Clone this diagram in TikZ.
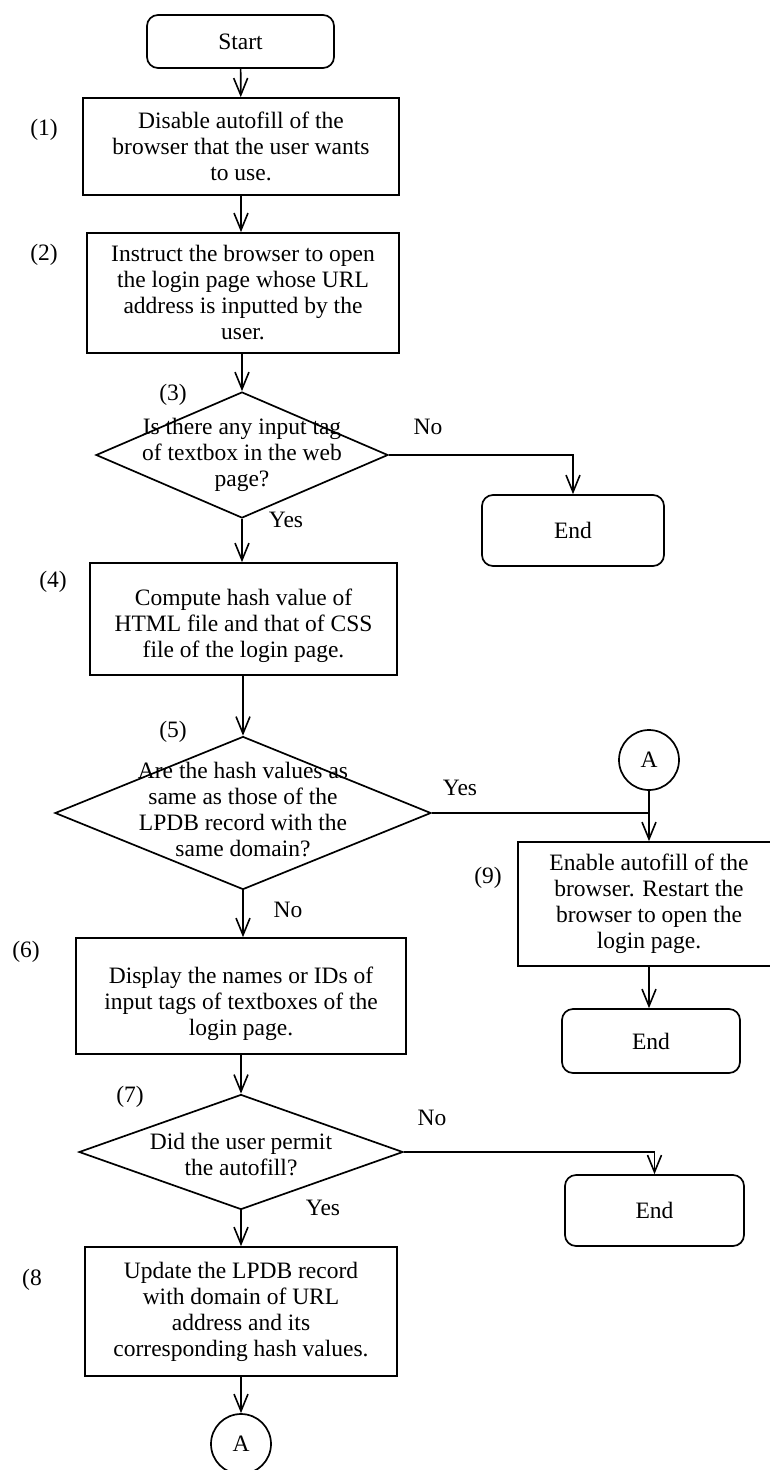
\documentclass[tikz,border=0pt]{standalone}
\usepackage{fontspec}
\setmainfont{Liberation Serif}
\usetikzlibrary{shapes.geometric,arrows.meta}

\tikzset{
  base/.style={draw, line width=1.7pt, inner sep=0pt, align=center},
  term/.style={base, rounded corners=11pt},
  proc/.style={base},
  dec/.style={base, diamond},
  conn/.style={base, circle, minimum size=60pt},
  txt/.style={align=center, inner sep=0pt},
  lab/.style={inner sep=0pt},
  flow/.style={line width=1.7pt, -{Straight Barb[length=17pt,width=14pt,line width=1.6pt]}},
  link/.style={line width=1.7pt}
}

\begin{document}
\begin{tikzpicture}[x=1pt,y=-1pt,font=\fontsize{23.5}{26}\selectfont]
\useasboundingbox (0,0) rectangle (769,1470);

% terminals and process steps
\node[term, minimum width=187pt, minimum height=53pt] (start) at (240.5,41.5) {Start};
\node[proc, minimum width=316pt, minimum height=97pt] (s1) at (241,146.5)
  {Disable autofill of the\\browser that the user wants\\to use.};
\node[proc, minimum width=312pt, minimum height=120pt] (s2) at (243,293)
  {Instruct the browser to open\\the login page whose URL\\address is inputted by the\\user.};
\node[dec, minimum width=292pt, minimum height=126pt] (d3) at (242,455) {};
\node[txt] (t3) at (242,455) {Is there any input tag\\of textbox in the web\\page?};
\node[term, minimum width=182pt, minimum height=71pt] (end1) at (573,530.5) {End};
\node[proc, minimum width=307pt, minimum height=112pt] (s4) at (243.5,619) {};
\node[txt] (t4) at (243.5,626) {Compute hash value of\\HTML file and that of CSS\\file of the login page.};
\node[dec, minimum width=376pt, minimum height=153pt] (d5) at (243,813) {};
\node[txt] (t5) at (243,810) {Are the hash values as\\same as those of the\\LPDB record with the\\same domain?};
\node[conn] (a1) at (649,760) {A};
\node[proc, minimum width=262pt, minimum height=124pt] (s9) at (649,904)
  {Enable autofill of the\\browser. Restart the\\browser to open the\\login page.};
\node[term, minimum width=178pt, minimum height=64pt] (end2) at (651,1041) {End};
\node[proc, minimum width=330pt, minimum height=116pt] (s6) at (241,996) {};
\node[txt] (t6) at (241,1004) {Display the names or IDs of\\input tags of textboxes of the\\login page.};
\node[dec, minimum width=324pt, minimum height=115pt] (d7) at (241,1152) {};
\node[txt] (t7) at (241,1154) {Did the user permit\\the autofill?};
\node[term, minimum width=179pt, minimum height=71pt] (end3) at (654.5,1210.5) {End};
\node[proc, minimum width=312pt, minimum height=129pt] (s8) at (241,1311.5)
  {Update the LPDB record\\with domain of URL\\address and its\\corresponding hash values.};
\node[conn] (a2) at (241,1444) {A};

% step numbers
\node[lab] (n1) at (44,130) {(1)};
\node[lab] (n2) at (44,255) {(2)};
\node[lab] (n3) at (173,395) {(3)};
\node[lab] (n4) at (53,582) {(4)};
\node[lab] (n5) at (173,732) {(5)};
\node[lab] (n6) at (26,952) {(6)};
\node[lab] (n7) at (130,1097) {(7)};
\node[lab] (n8) at (32,1280) {(8};
\node[lab] (n9) at (488,878) {(9)};

% branch labels
\node[lab] (no3) at (428,427) {No};
\node[lab] (yes3) at (286,520) {Yes};
\node[lab] (yes5) at (460,788) {Yes};
\node[lab] (no5) at (288,910) {No};
\node[lab] (no7) at (432,1118) {No};
\node[lab] (yes7) at (323,1208) {Yes};

% connectors
\draw[flow] (start) -- (s1);
\draw[flow] (s1) -- (s1.south |- s2.north);
\draw[flow] (s2.south -| d3.north) -- (d3.north);
\draw[flow] (d3.east) -| (end1.north);
\draw[flow] (d3.south) -- (d3.south |- s4.north);
\draw[flow] (s4.south -| d5.north) -- (d5.north);
\draw[link] (d5.east) -- (d5.east -| a1.south);
\draw[flow] (a1.south) -- (s9.north);
\draw[flow] (s9.south) -- (s9.south |- end2.north);
\draw[flow] (d5.south) -- (d5.south |- s6.north);
\draw[flow] (s6.south -| d7.north) -- (d7.north);
\draw[flow] (d7.east) -| (end3.north);
\draw[flow] (d7.south) -- (d7.south |- s8.north);
\draw[flow] (s8.south) -- (a2.north);
\end{tikzpicture}
\end{document}
